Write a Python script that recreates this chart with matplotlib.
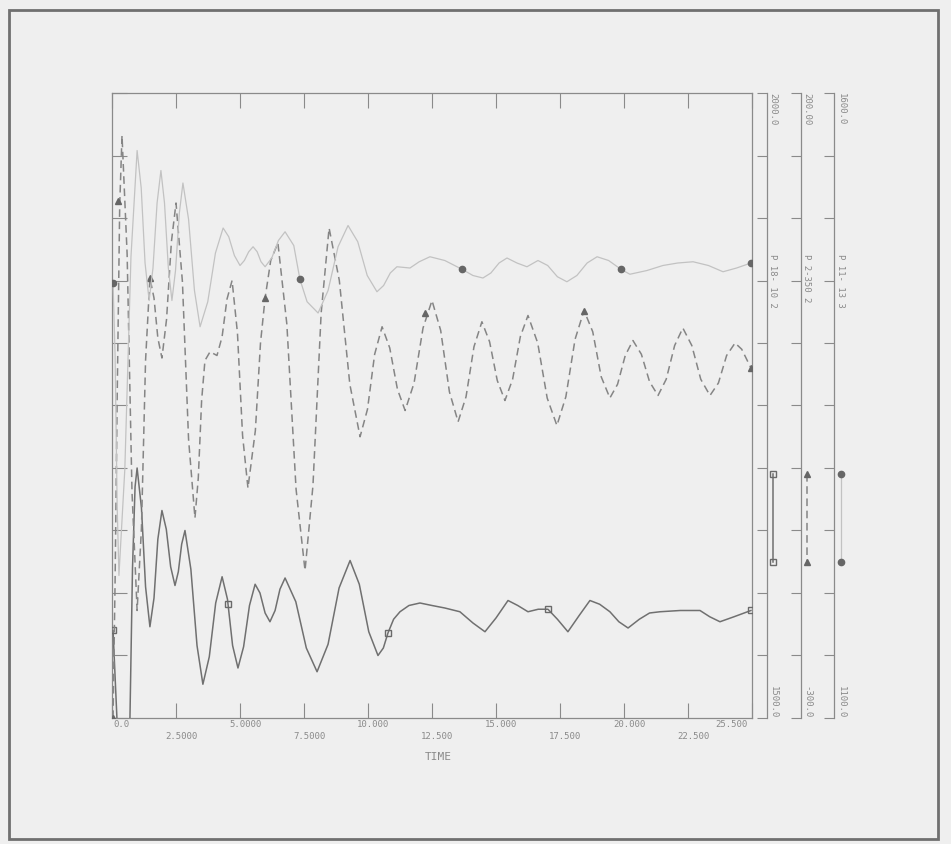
import numpy as np
import matplotlib.pyplot as plt
from matplotlib.patches import Rectangle

# series 1: solid line, axis 1500..2000
t_solid = [0.04, 0.23, 0.62, 0.70, 0.80, 0.90, 0.98, 1.15, 1.31, 1.48, 1.64, 1.79, 1.95,
           2.12, 2.29, 2.46, 2.59, 2.72, 2.85, 3.08, 3.32, 3.55, 3.80, 4.05, 4.30, 4.51,
           4.71, 4.92, 5.14, 5.37, 5.59, 5.78, 5.98, 6.17, 6.37, 6.56, 6.76, 7.18, 7.59,
           8.01, 8.44, 8.87, 9.30, 9.66, 10.03, 10.39, 10.6, 10.78, 11.0, 11.25, 11.6,
           12.03, 12.5, 13.0, 13.59, 14.1, 14.57, 15.0, 15.47, 15.85, 16.25, 16.65, 17.03,
           17.4, 17.81, 18.25, 18.67, 19.05, 19.45, 19.8, 20.16, 20.6, 21.0, 21.41, 22.2,
           22.97, 23.35, 23.75, 24.3, 24.96]
v_solid = [1570, 1482, 1482, 1500, 1620, 1685, 1700, 1668, 1605, 1573, 1596, 1643, 1666,
           1651, 1621, 1606, 1617, 1639, 1650, 1619, 1558, 1527, 1549, 1592, 1613, 1595,
           1558, 1540, 1557, 1590, 1607, 1600, 1584, 1577, 1586, 1603, 1612, 1593, 1556,
           1537, 1559, 1604, 1626, 1607, 1569, 1550, 1556, 1568, 1579, 1585, 1590,
           1592, 1590, 1588, 1585, 1576, 1569, 1580, 1594, 1590, 1585, 1587, 1587,
           1579, 1569, 1582, 1594, 1591, 1585, 1577, 1572, 1579, 1584, 1585, 1586,
           1586, 1581, 1577, 1581, 1586]

# series 2: dashed line, axis -300..200
t_dash = [0.04, 0.12, 0.2, 0.3, 0.39, 0.59, 0.78, 0.98, 1.15, 1.31, 1.48, 1.64, 1.79, 1.95,
          2.13, 2.32, 2.5, 2.75, 2.99, 3.24, 3.37, 3.50, 3.63, 3.83, 4.10, 4.30, 4.49,
          4.69, 4.90, 5.10, 5.31, 5.6, 5.8, 5.98, 6.2, 6.48, 6.83, 7.19, 7.54, 7.85, 8.17,
          8.48, 8.88, 9.29, 9.69, 9.98, 10.26, 10.55, 10.85, 11.15, 11.45, 11.8, 12.15,
          12.5, 12.84, 13.18, 13.52, 13.83, 14.14, 14.45, 14.75, 15.05, 15.35, 15.65,
          15.95, 16.25, 16.63, 17.0, 17.38, 17.73, 18.09, 18.44, 18.78, 19.11, 19.45,
          19.75, 20.05, 20.35, 20.68, 21.0, 21.33, 21.65, 21.98, 22.30, 22.65, 23.0,
          23.36, 23.69, 24.01, 24.34, 24.6, 24.96]
v_dash = [-300, -190, -46, 110, 166, 71, -119, -214, -148, -14, 52, 36, 4, -12,
          19, 81, 112, 49, -77, -140, -108, -46, -14, -7, -10, 5, 35,
          50, 8, -74, -116, -70, 0, 36, 66, 80, 15, -117, -182, -114, 24,
          92, 50, -33, -75, -53, -9, 13, -4, -37, -54, -32, 12,
          34, 10, -39, -63, -43, -3, 17, 1, -30, -46, -29,
          5, 22, 0, -44, -66, -43, 3, 26, 9, -27, -44,
          -33, -10, 2, -9, -31, -42, -29, -2, 12, -2, -29,
          -42, -32, -10, 0, -5, -20]

# series 3: dotted (faint) line, axis 1100..1600
t_dot = [0.04, 0.12, 0.2, 0.27, 0.5, 0.74, 0.98, 1.14, 1.29, 1.45, 1.6, 1.76, 1.91, 2.05,
         2.2, 2.34, 2.48, 2.63, 2.77, 2.99, 3.22, 3.44, 3.74, 4.04, 4.34, 4.56, 4.78,
         5.0, 5.17, 5.34, 5.51, 5.67, 5.82, 5.98, 6.24, 6.5, 6.76, 7.1, 7.34, 7.62,
         8.05, 8.44, 8.83, 9.22, 9.6, 9.97, 10.35, 10.61, 10.87, 11.13, 11.64, 12.0,
         12.42, 13.0, 13.67, 14.1, 14.49, 14.8, 15.12, 15.43, 15.82, 16.21, 16.64,
         17.02, 17.4, 17.77, 18.16, 18.56, 18.95, 19.4, 19.88, 20.23, 20.9, 21.52,
         22.1, 22.70, 23.3, 23.87, 24.4, 24.96]
v_dot = [1448, 1390, 1270, 1214, 1299, 1469, 1554, 1524, 1464, 1434, 1460, 1512, 1538, 1512,
         1460, 1434, 1458, 1504, 1528, 1499, 1442, 1413, 1433, 1472, 1492, 1485, 1470,
         1462, 1466, 1473, 1477, 1473, 1465, 1461, 1468, 1482, 1489, 1478, 1451, 1433,
         1424, 1442, 1477, 1494, 1481, 1454, 1441, 1446, 1456, 1461, 1460, 1465,
         1469, 1466, 1459, 1454, 1452, 1456, 1464, 1468, 1464, 1461, 1466,
         1462, 1453, 1449, 1454, 1464, 1469, 1466, 1459, 1455, 1458, 1462,
         1464, 1465, 1462, 1457, 1460, 1464]

# symbols along the curves
mk_solid_t = [0.04, 4.53, 10.78, 17.03, 24.96]
mk_solid_v = [1570, 1591, 1568, 1587, 1586]
mk_dash_t = [0.04, 0.23, 1.48, 5.98, 12.23, 18.44, 24.96]
mk_dash_v = [-300, 114, 52, 36, 24, 26, -20]
mk_dot_t = [0.04, 7.34, 13.67, 19.88, 24.96]
mk_dot_v = [1448, 1451, 1459, 1459, 1464]

x_ticks = [0, 2.5, 5, 7.5, 10, 12.5, 15, 17.5, 20, 22.5, 25]
x_labels = ["0.0", "2.5000", "5.0000", "7.5000", "10.000", "12.500",
            "15.000", "17.500", "20.000", "22.500", "25.500"]

axis_ranges = [(1500.0, 2000.0), (-300.0, 200.0), (1100.0, 1600.0)]
axis_top = ["2000.0", "200.00", "1600.0"]
axis_bot = ["1500.0", "-300.0", "1100.0"]
axis_names = ["P 18- 10 2", "P 2-350 2", "P 11- 13 3"]

INK = "#8a8a8a"
BG = "#efefef"
mono = "DejaVu Sans Mono"

fig = plt.figure(figsize=(9.51, 8.44), dpi=100, facecolor=BG)
fig.add_artist(Rectangle((0.0095, 0.006), 0.977, 0.982, transform=fig.transFigure,
                         fill=False, edgecolor="#707070", linewidth=2))

ax = fig.add_axes([0.1178, 0.1493, 0.6729, 0.7405])
ax.set_facecolor(BG)
ax.set_xlim(0, 25)
ax.set_ylim(0, 10)
ax.set_yticks(np.arange(0, 10.1, 1))
ax.set_yticklabels([])
ax.set_xticks(x_ticks)
ax.set_xticklabels([])
ax.tick_params(axis="x", direction="in", length=11, top=True, bottom=True, color=INK, width=0.8)
ax.tick_params(axis="y", direction="in", length=11, left=True, right=False, color=INK, width=0.8)
for s in ax.spines.values():
    s.set_color(INK)
    s.set_linewidth(0.9)

# alternating x tick labels
for i, (xt, lab) in enumerate(zip(x_ticks, x_labels)):
    off = 0.2 if i > 0 else 0.35
    if i == len(x_ticks) - 1:
        off = -0.82
    ax.text(xt + off, -0.105 if i % 2 == 0 else -0.29, lab, ha="center", va="center",
            fontsize=6.5, family=mono, color=INK, clip_on=False)
ax.text(12.75, -0.62, "TIME", ha="center", va="center", fontsize=8, family=mono, color=INK)

styles = [dict(ls="-", color="#707070", lw=1.1),
          dict(ls=(0, (5, 3)), color="#858585", lw=1.1),
          dict(ls="-", color="#c2c2c2", lw=0.9)]
markers = [dict(marker="s", mfc="none", mec="#6a6a6a", ms=5, mew=1.0),
           dict(marker="^", mfc="#666666", mec="#666666", ms=4.5),
           dict(marker="o", mfc="#666666", mec="#666666", ms=4.5)]
series = [(t_solid, v_solid, mk_solid_t, mk_solid_v),
          (t_dash, v_dash, mk_dash_t, mk_dash_v),
          (t_dot, v_dot, mk_dot_t, mk_dot_v)]
spine_pos = [1.0234, 1.0766, 1.128]
lab_x = [1.0328, 1.0859, 1.139]

for k in range(3):
    tw = ax.twinx()
    lo, hi = axis_ranges[k]
    tw.set_ylim(lo, hi)
    tw.set_xlim(0, 25)
    tw.plot(series[k][0], series[k][1], **styles[k])
    tw.plot(series[k][2], series[k][3], ls="none", **markers[k])
    for name, s in tw.spines.items():
        s.set_visible(name == "right")
    tw.spines["right"].set_position(("axes", spine_pos[k]))
    tw.spines["right"].set_color(INK)
    tw.spines["right"].set_linewidth(0.9)
    tw.set_yticks(np.linspace(lo, hi, 11))
    tw.set_yticklabels([])
    tw.tick_params(axis="y", direction="in", length=7, color=INK, width=0.8)
    tw.text(lab_x[k], 1.0, axis_top[k], transform=tw.transAxes, rotation=-90,
            ha="center", va="top", fontsize=6.5, family=mono, color=INK, clip_on=False)
    tw.text(lab_x[k], 0.0, axis_bot[k], transform=tw.transAxes, rotation=-90,
            ha="center", va="bottom", fontsize=6.5, family=mono, color=INK, clip_on=False)
    tw.text(lab_x[k], 0.742, axis_names[k], transform=tw.transAxes, rotation=-90,
            ha="center", va="top", fontsize=6.5, family=mono, color=INK, clip_on=False)
    # legend sample
    tw.plot([lab_x[k], lab_x[k]], [0.3904, 0.2496], transform=tw.transAxes,
            clip_on=False, **styles[k])
    tw.plot([lab_x[k], lab_x[k]], [0.3904, 0.2496], transform=tw.transAxes,
            clip_on=False, ls="none", **markers[k])

fig.savefig("out.png", dpi=100, facecolor=BG)
